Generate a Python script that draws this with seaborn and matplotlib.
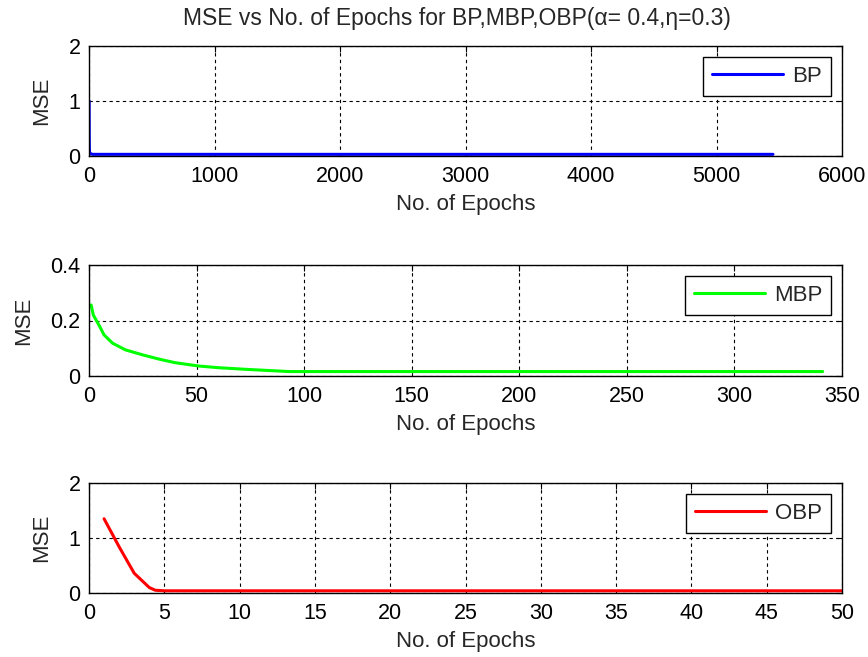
import matplotlib
matplotlib.use("Agg")
import matplotlib.pyplot as plt
import seaborn as sns
import pandas as pd

# ---- data ----
bp_epochs = [1, 2, 3, 5, 10, 30, 100, 5450]
bp_mse = [1.0, 0.33, 0.12, 0.06, 0.04, 0.03, 0.03, 0.03]

mbp_epochs = [1, 2, 5, 7, 11, 17, 25, 33, 40, 51, 60, 73, 93, 341]
mbp_mse = [0.256, 0.22, 0.178, 0.148, 0.118, 0.094, 0.076, 0.06, 0.048, 0.036, 0.03, 0.024, 0.016, 0.016]

obp_epochs = [1, 2, 3, 4, 4.4, 5, 50]
obp_mse = [1.35, 0.84, 0.36, 0.1, 0.05, 0.04, 0.04]

title = "MSE vs No. of Epochs for BP,MBP,OBP(\u03b1= 0.4,\u03b7=0.3)"
xlabel = "No. of Epochs"
ylabel = "MSE"

panels = [
    dict(x=bp_epochs, y=bp_mse, name="BP", color="#0000ff",
         xlim=(0, 6000), xticks=[0, 1000, 2000, 3000, 4000, 5000, 6000],
         ylim=(0, 2), yticks=[0, 1, 2], yticklabels=["0", "1", "2"]),
    dict(x=mbp_epochs, y=mbp_mse, name="MBP", color="#00ff00",
         xlim=(0, 350), xticks=[0, 50, 100, 150, 200, 250, 300, 350],
         ylim=(0, 0.4), yticks=[0, 0.2, 0.4], yticklabels=["0", "0.2", "0.4"]),
    dict(x=obp_epochs, y=obp_mse, name="OBP", color="#ff0000",
         xlim=(0, 50), xticks=list(range(0, 51, 5)),
         ylim=(0, 2), yticks=[0, 1, 2], yticklabels=["0", "1", "2"]),
]

sns.set_style("white")
plt.rcParams["font.family"] = ["Liberation Sans", "DejaVu Sans"]
plt.rcParams["font.size"] = 15

fig = plt.figure(figsize=(8.68, 6.57), dpi=100)
left, width = 89 / 868, (842 - 89) / 868
tops = [(46, 156), (265, 376), (483, 593)]

for (t, b), p in zip(tops, panels):
    ax = fig.add_axes([left, 1 - b / 657, width, (b - t) / 657])
    df = pd.DataFrame({"epoch": p["x"], "mse": p["y"]})
    sns.lineplot(data=df, x="epoch", y="mse", ax=ax, color=p["color"],
                 linewidth=2.2, label=p["name"], estimator=None)
    ax.set_xlim(*p["xlim"])
    ax.set_ylim(*p["ylim"])
    ax.set_xticks(p["xticks"])
    ax.set_xticklabels([str(v) for v in p["xticks"]])
    ax.set_yticks(p["yticks"])
    ax.set_yticklabels(p["yticklabels"])
    ax.grid(True, color="black", linestyle=(0, (3, 3)), linewidth=0.8)
    ax.set_axisbelow(True)
    for s in ax.spines.values():
        s.set_color("black")
        s.set_linewidth(1.0)
        s.set_visible(True)
    ax.tick_params(direction="in", length=4, top=True, right=True,
                   labelsize=15.5, colors="black")
    ax.tick_params(axis="x", pad=7)
    ax.tick_params(axis="y", pad=6)
    ax.set_xlabel(xlabel, fontsize=16, labelpad=5)
    ax.set_ylabel(ylabel, fontsize=16, labelpad=12)
    leg = ax.legend(loc="upper right", fontsize=16, frameon=True, fancybox=False,
                    handlelength=3.2, handletextpad=0.4, borderpad=0.4,
                    edgecolor="black", framealpha=1, borderaxespad=0.5)
    leg.get_frame().set_linewidth(1.0)

fig.text((89 + 842) / 2 / 868 - 0.01, 1 - 19 / 657, title, ha="center", va="center", fontsize=16.5)
fig.savefig("out.png", dpi=100)
